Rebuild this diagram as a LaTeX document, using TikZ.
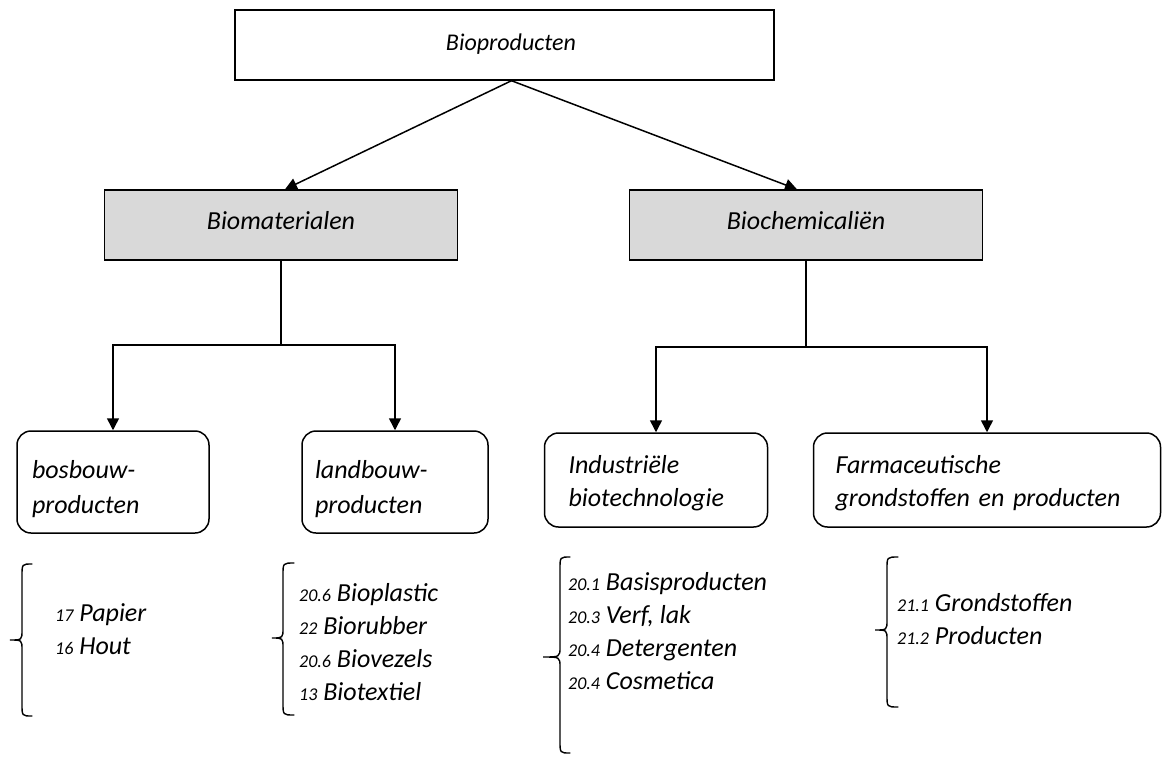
\documentclass[tikz,border=0pt]{standalone}
\usepackage{fontspec}
\setmainfont{Carlito}
\usetikzlibrary{arrows.meta}
% small section number in front of a list entry
\newcommand\secnum[1]{{\fontsize{18}{18}\selectfont #1}}
% invisible strut that lowers the first line of a box label
\newcommand\lowerby[1]{\rule{0pt}{#1}}
% left curly brace: tip x, spine x, end x, top y, middle y, bottom y
\newcommand\curlybrace[6]{%
  \draw[bracestroke] (#3,#4) .. controls (#2,#4) .. (#2,#4+12)
    -- (#2,#5-10) .. controls (#2,#5) .. (#1,#5)
    .. controls (#2,#5) .. (#2,#5+10)
    -- (#2,#6-12) .. controls (#2,#6) .. (#3,#6);}
\begin{document}
\begin{tikzpicture}[x=1pt,y=-1pt,
  every node/.style={font=\itshape\fontsize{26}{33}\selectfont},
  link/.style={line width=1.5pt, draw=black},
  arr/.style={link, -{Triangle[length=12pt,width=12pt]}},
  topbox/.style={draw, line width=1.4pt, minimum width=539pt, minimum height=70pt, inner sep=0pt,
    font=\itshape\fontsize{24}{29}\selectfont},
  groupbox/.style={draw, line width=1.4pt, fill=boxgrey, minimum width=353pt, minimum height=70pt, inner sep=0pt},
  subbox/.style={draw, line width=1.5pt, rounded corners=14pt, align=left, inner ysep=0pt},
  listtext/.style={anchor=west, align=left, inner sep=0pt},
  bracestroke/.style={line width=1.4pt, line cap=round}
]
\definecolor{boxgrey}{HTML}{D9D9D9}
\useasboundingbox (0,0) rectangle (1163,756);

% top level
\node[topbox] (top) at (504.5,45) {\hspace*{13pt}\raisebox{5pt}{Bioproducten}};

% second level
\node[groupbox] (bm) at (281,225) {\raisebox{9pt}{Biomaterialen}};
\node[groupbox] (bc) at (806,225) {\raisebox{9pt}{Biochemicaliën}};

\draw[arr] ([xshift=7pt]top.south) -- ([xshift=4pt]bm.north);
\draw[arr] ([xshift=7pt]top.south) -- ([xshift=-9pt]bc.north);

% third level
\node[subbox, text width=162pt, inner xsep=15pt, minimum height=102pt] (bos) at (113,482)
  {\lowerby{32pt}bosbouw-\\[2pt]producten};
\node[subbox, text width=160pt, inner xsep=13pt, minimum height=102pt] (land) at (395,482)
  {\lowerby{32pt}landbouw-\\[2pt]producten};
\node[subbox, text width=175pt, inner xsep=24pt, minimum height=94pt] (ind) at (656,480)
  {\lowerby{24pt}Industriële\\biotechnologie};
\node[subbox, text width=303pt, inner xsep=22pt, minimum height=94pt] (farm) at (987,480)
  {\lowerby{24pt}Farmaceutische\\grondstoffen en producten};

\coordinate (bmj) at (281,345);
\coordinate (bcj) at (806,347);
\draw[link] (bm.south) -- (bmj);
\draw[arr] (bmj) -| (bos.north);
\draw[arr] (bmj) -| (land.north);
\draw[link] (bc.south) -- (bcj);
\draw[arr] (bcj) -| (ind.north);
\draw[arr] (bcj) -| (farm.north);

% lists of sections
\curlybrace{10}{22}{32}{564}{640}{716}
\node[listtext] (l1) at (55,629) {\secnum{17} Papier\\\secnum{16} Hout};

\curlybrace{272}{283}{294}{563}{638}{715}
\node[listtext] (l2) at (299,642.5) {\secnum{20.6} Bioplastic\\\secnum{22} Biorubber\\\secnum{20.6} Biovezels\\\secnum{13} Biotextiel};

\curlybrace{543}{560}{570}{557}{657}{753}
\node[listtext] (l3) at (568,631) {\secnum{20.1} Basisproducten\\\secnum{20.3} Verf, lak\\\secnum{20.4} Detergenten\\\secnum{20.4} Cosmetica};

\curlybrace{875}{887}{898}{557}{630}{707}
\node[listtext] (l4) at (897,619.5) {\secnum{21.1} Grondstoffen\\\secnum{21.2} Producten};
\end{tikzpicture}
\end{document}
